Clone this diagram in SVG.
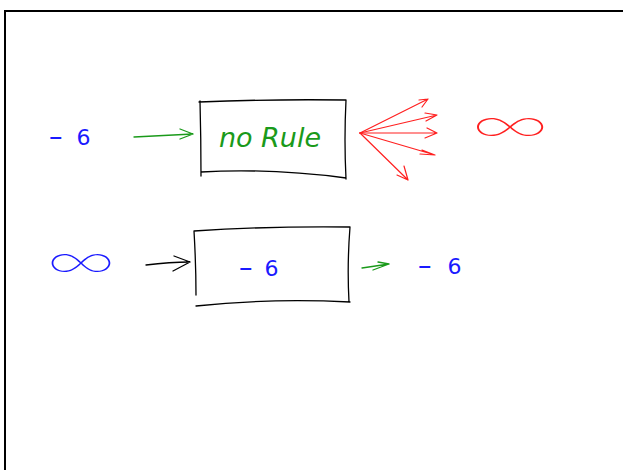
<svg xmlns="http://www.w3.org/2000/svg" width="623" height="470" viewBox="0 0 623 470">
<style>
.ink{fill:none;stroke-linecap:round;stroke-linejoin:round}
.blk{stroke:#000;stroke-width:1.3}
.grn{stroke:#1a9a1a;stroke-width:1.3}
.red{stroke:#ff2020;stroke-width:1.2}
.t{font-family:"DejaVu Sans","Liberation Sans",sans-serif}
.inf{font-family:Inter,"Liberation Serif",serif;font-weight:100}
.blue{fill:#1a1aff}
.d{font-size:27px}
</style>
<rect width="623" height="470" fill="#fff"/>
<path d="M5,470 L5,11 L623,11" fill="none" stroke="#000" stroke-width="2"/>
<g id="node-norule">
<path class="ink blk" d="M199,102 Q270,99 346,100 M346,100 Q344,140 346,179 M201,172 Q270,168 346,178 M200,101 Q201,140 201,176"/>
<text class="t" x="270" y="147" font-size="27" font-style="italic" fill="#1a9a1a" text-anchor="middle">no Rule</text>
</g>
<g id="node-six">
<path class="ink blk" d="M194,231 Q270,226 350,227 M350,227 Q347,265 349,302 M196,306 Q270,298 350,302 M194,231 Q196,265 196,295"/>
<text class="t blue" x="239" y="276" font-size="22"><tspan class="d">–</tspan><tspan dx="12">6</tspan></text>
</g>
<g id="label-in-top"><text class="t blue" x="49" y="145" font-size="22"><tspan class="d">–</tspan><tspan dx="14">6</tspan></text></g>
<g id="label-out-bottom"><text class="t blue" x="418" y="274" font-size="22"><tspan class="d">–</tspan><tspan dx="16">6</tspan></text></g>
<g id="label-inf-red"><text class="inf" x="0" y="0" font-size="40" fill="#ff2020" text-anchor="middle" transform="translate(510,143) scale(2.2,1.3)">∞</text></g>
<g id="label-inf-blue"><text class="inf blue" x="0" y="0" font-size="40" text-anchor="middle" transform="translate(81,279) scale(1.95,1.3)">∞</text></g>
<g id="connectors">
<path class="ink grn" d="M134,137 L193,134 M180,129 L193,134 L180,139"/>
<path class="ink red" d="M360,133 L428,99 M419,100 L428,99 L422,107"/>
<path class="ink red" d="M360,133 L437,115 M425,113 L437,115 L426,121"/>
<path class="ink red" d="M360,133 L437,133 M427,128 L437,133 L425,138"/>
<path class="ink red" d="M360,133 L435,155 M422,150 L435,155 L420,154"/>
<path class="ink red" d="M360,133 L408,180 M397,175 L408,180 L404,166"/>
<path class="ink blk" d="M146,265 Q170,262 190,262 M174,256 L190,262 L173,271"/>
<path class="ink grn" d="M362,268 L389,264 M378,262 L389,264 L373,270"/>
</g>
</svg>
